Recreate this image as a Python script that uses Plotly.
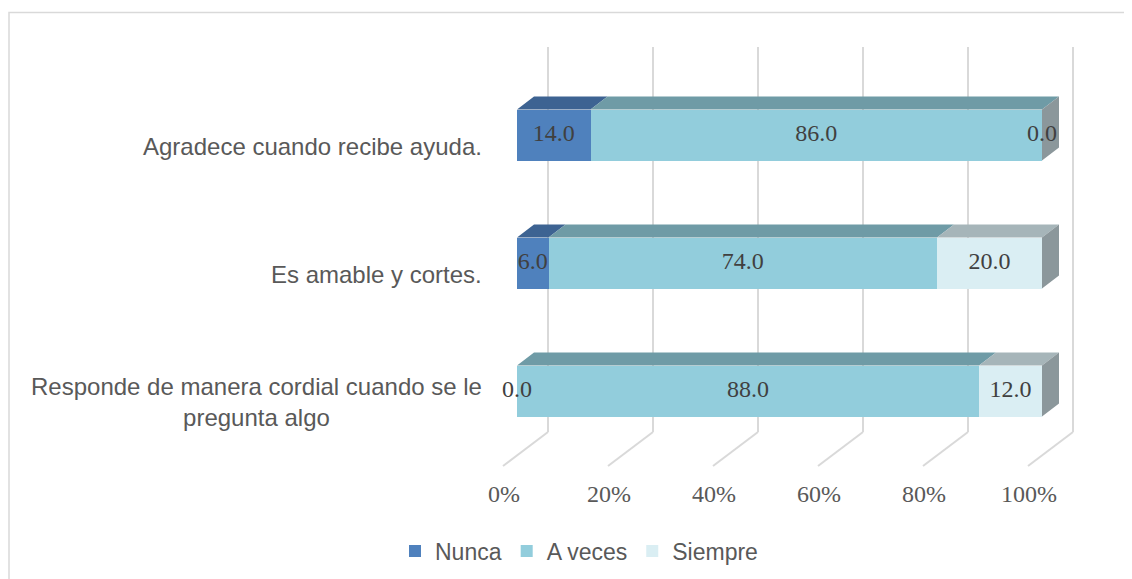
import plotly.graph_objects as go

# ---------------- data ----------------
categories = [
    "Responde de manera cordial cuando se le<br>pregunta algo",
    "Es amable y cortes.",
    "Agradece cuando recibe ayuda.",
]
series_names = ["Nunca", "A veces", "Siempre"]
nunca = [0.0, 6.0, 14.0]
a_veces = [88.0, 74.0, 86.0]
siempre = [12.0, 20.0, 0.0]
tick_values = [0, 20, 40, 60, 80, 100]
tick_labels = ["0%", "20%", "40%", "60%", "80%", "100%"]

# ---------------- style ----------------
front_colors = ["#4F81BD", "#92CDDC", "#DAEEF3"]
top_colors = ["#3D6392", "#6F9BA6", "#A6B5B9"]
side_colors = ["#2F4D72", "#5C8089", "#8B979B"]
GRID = "#D9D9D9"
PAGE = 8                                   # browser body margin
W, H = 1132 - PAGE, 579 - PAGE             # figure size
X0_PX, PX_PER_X = 517 - PAGE, 5.25         # figure pixel of 0 %, pixels per percent
Y0_PX, PX_PER_Y = 391 - PAGE, 128          # figure pixel of first category centre
BAR_W = 51 / PX_PER_Y
DEPTH_DX = 17 / PX_PER_X
DEPTH_DY = 13 / PX_PER_Y
WALL_DX = 31 / PX_PER_X
WALL_TOP = (391 - 47) / PX_PER_Y
WALL_BOTTOM = (391 - 432) / PX_PER_Y
FLOOR_DX = -45 / PX_PER_X
FLOOR_DY = -34 / PX_PER_Y
TICK_DX = -13 / PX_PER_X
TICK_Y = (391 - 496) / PX_PER_Y
LABEL_X = (484 - 517) / PX_PER_X

series = [nunca, a_veces, siempre]
ypos = list(range(len(categories)))

fig = go.Figure()

# front faces (bars)
bases = [0.0] * len(categories)
seg_bounds = []
for name, vals, col in zip(series_names, series, front_colors):
    fig.add_trace(go.Bar(
        x=vals, y=ypos, base=list(bases), orientation="h", width=BAR_W,
        name=name, marker=dict(color=col, line=dict(width=0)),
        hoverinfo="skip",
    ))
    seg_bounds.append([(b, b + v) for b, v in zip(bases, vals)])
    bases = [b + v for b, v in zip(bases, vals)]

# top faces
for s, (bounds, col) in enumerate(zip(seg_bounds, top_colors)):
    xs, ys = [], []
    for yi, (a, b) in zip(ypos, bounds):
        yt = yi + BAR_W / 2
        xs += [a, a + DEPTH_DX, b + DEPTH_DX, b, a, None]
        ys += [yt, yt + DEPTH_DY, yt + DEPTH_DY, yt, yt, None]
    fig.add_trace(go.Scatter(x=xs, y=ys, mode="lines", fill="toself",
                             fillcolor=col, line=dict(width=0, color=col),
                             showlegend=False, hoverinfo="skip"))

# right side face (belongs to the last series)
xs, ys = [], []
for yi, tot in zip(ypos, bases):
    yt, yb = yi + BAR_W / 2, yi - BAR_W / 2
    xs += [tot, tot, tot + DEPTH_DX, tot + DEPTH_DX, tot, None]
    ys += [yb, yt, yt + DEPTH_DY, yb + DEPTH_DY, yb, None]
fig.add_trace(go.Scatter(x=xs, y=ys, mode="lines", fill="toself",
                         fillcolor=side_colors[-1], line=dict(width=0, color=side_colors[-1]),
                         showlegend=False, hoverinfo="skip"))

# data labels
lx, ly, lt = [], [], []
for bounds, vals in zip(seg_bounds, series):
    for yi, (a, b), v in zip(ypos, bounds, vals):
        lx.append((a + b) / 2)
        ly.append(yi)
        lt.append(f"{v:.1f}")
fig.add_trace(go.Scatter(x=lx, y=ly, text=lt, mode="text",
                         textposition="middle center",
                         textfont=dict(family="Liberation Serif", size=24, color="#404040"),
                         showlegend=False, hoverinfo="skip"))

# tick labels of the value axis
fig.add_trace(go.Scatter(x=[v + TICK_DX for v in tick_values], y=[TICK_Y] * len(tick_values),
                         text=tick_labels, mode="text", textposition="middle center",
                         textfont=dict(family="Liberation Serif", size=24, color="#595959"),
                         showlegend=False, hoverinfo="skip"))

# back-wall gridlines and floor lines
shapes = []
for v in tick_values:
    xb = v + WALL_DX
    shapes.append(dict(type="line", xref="x", yref="y", x0=xb, x1=xb, y0=WALL_BOTTOM, y1=WALL_TOP,
                       line=dict(color=GRID, width=2), layer="below"))
    shapes.append(dict(type="line", xref="x", yref="y", x0=xb, x1=xb + FLOOR_DX,
                       y0=WALL_BOTTOM, y1=WALL_BOTTOM + FLOOR_DY,
                       line=dict(color=GRID, width=2), layer="below"))
# chart border
shapes.append(dict(type="rect", xref="paper", yref="paper", x0=1 / W, x1=1.01,
                   y0=-0.05, y1=1 - 4.5 / H, line=dict(color=GRID, width=1.5), layer="below"))

# category labels
annotations = []
for yi, cat in zip(ypos, categories):
    annotations.append(dict(x=LABEL_X, y=yi, xref="x", yref="y", text=cat, showarrow=False,
                            xanchor="right", yanchor="middle", align="center", yshift=-11,
                            font=dict(family="Liberation Sans", size=24, color="#595959")))

fig.update_layout(
    width=W, height=H, autosize=False,
    margin=dict(l=0, r=0, t=0, b=0),
    paper_bgcolor="white", plot_bgcolor="white",
    barmode="overlay", bargap=0,
    xaxis=dict(range=[-X0_PX / PX_PER_X, (W - X0_PX) / PX_PER_X], visible=False, fixedrange=True),
    yaxis=dict(range=[(Y0_PX - H) / PX_PER_Y, Y0_PX / PX_PER_Y], visible=False, fixedrange=True),
    shapes=shapes, annotations=annotations,
    showlegend=True,
    legend=dict(orientation="h", x=(579 - PAGE) / W, xanchor="center",
                y=1 - (551 - PAGE) / H, yanchor="middle",
                font=dict(family="Liberation Sans", size=23, color="#595959"),
                traceorder="normal", bgcolor="rgba(0,0,0,0)", itemwidth=30),
    hovermode=False,
)

fig.write_html("out.html")
